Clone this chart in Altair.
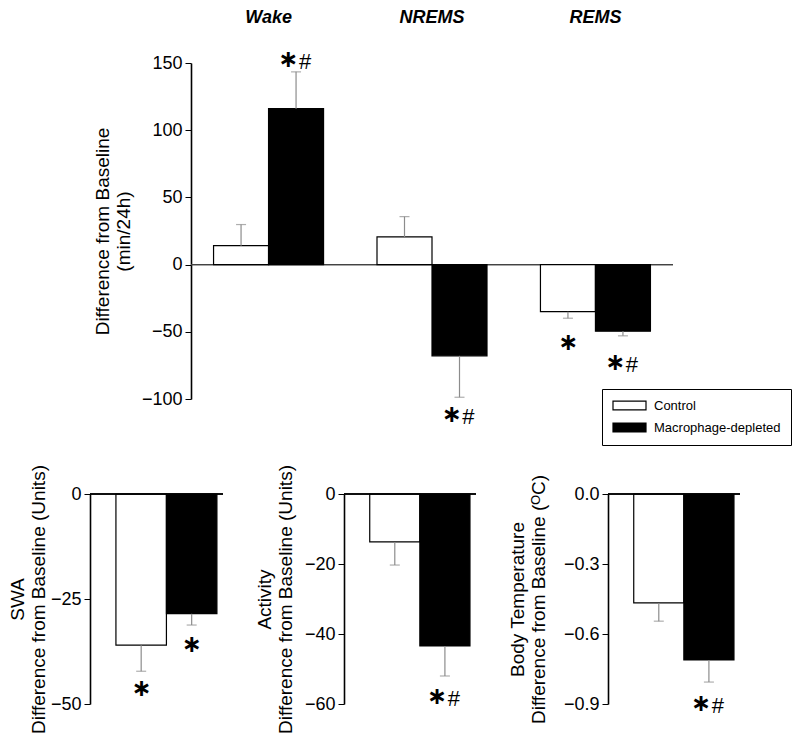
import altair as alt
import pandas as pd

FONT = "Liberation Sans"
STAR_FONT = "DejaVu Sans"

# ---------------- data ----------------
groups = ["Control", "Macrophage-depleted"]

top_categories = ["Wake", "NREMS", "REMS"]
top_control_mean = [14.1, 20.6, -35.0]
top_control_err = [29.8, 35.7, -39.9]
top_md_mean = [116.0, -67.9, -49.6]
top_md_err = [143.4, -98.7, -53.0]
top_ticks = [-100, -50, 0, 50, 100, 150]

top_annot_cat = ["Wake", "NREMS", "REMS", "REMS"]
top_annot_group = ["Macrophage-depleted", "Macrophage-depleted", "Control", "Macrophage-depleted"]
top_annot_y = [153.0, -111.0, -57.5, -72.5]
top_annot_hash = ["#", "#", "", "#"]

swa_mean = [-36.0, -28.5]
swa_err = [-42.2, -31.2]
swa_annot_group = ["Control", "Macrophage-depleted"]
swa_annot_y = [-46.2, -35.7]
swa_annot_hash = ["", ""]
swa_ticks = [-50, -25, 0]

act_mean = [-13.7, -43.4]
act_err = [-20.3, -52.0]
act_annot_group = ["Macrophage-depleted"]
act_annot_y = [-57.7]
act_annot_hash = ["#"]
act_ticks = [-60, -40, -20, 0]

temp_mean = [-0.467, -0.711]
temp_err = [-0.545, -0.806]
temp_annot_group = ["Macrophage-depleted"]
temp_annot_y = [-0.894]
temp_annot_hash = ["#"]
temp_ticks = [-0.9, -0.6, -0.3, 0.0]

ERR_COLOR = "#8c8c8c"
STAR = "\u2217"

fill_scale = alt.Scale(domain=groups, range=["white", "black"])

legend_path = "M-1,-0.8L5,-0.8L5,0.8L-1,0.8Z"


def y_axis(title, values, fmt=None, title_pad=4):
    kw = dict(
        values=values,
        title=title,
        grid=False,
        domainColor="black",
        domainWidth=1.6,
        tickColor="black",
        tickSize=6,
        tickWidth=1,
        labelFontSize=18,
        labelPadding=3,
        labelColor="black",
        labelFont=FONT,
        titleFont=FONT,
        titleFontSize=19,
        titleFontWeight="normal",
        titleColor="black",
        titlePadding=title_pad,
        titleLineHeight=21,
    )
    if fmt:
        kw["format"] = fmt
    return alt.Axis(**kw)


def annotation_layers(adf, x_enc, y_enc, xoff=None):
    enc = dict(x=x_enc, y=y_enc)
    if xoff is not None:
        enc["xOffset"] = xoff
    base = alt.Chart(adf)
    star_combo = base.transform_filter(alt.datum.hash == "#").mark_text(
        text=STAR, font=STAR_FONT, fontSize=24, fontWeight="bold", color="black",
        align="center", baseline="middle", dx=-8, dy=1
    ).encode(**enc)
    star_single = base.transform_filter(alt.datum.hash == "").mark_text(
        text=STAR, font=STAR_FONT, fontSize=24, fontWeight="bold", color="black",
        align="center", baseline="middle", dy=1
    ).encode(**enc)
    hash_t = base.transform_filter(alt.datum.hash == "#").mark_text(
        font=FONT, fontSize=22, color="black", align="center", baseline="middle", dx=9, dy=3
    ).encode(text="hash:N", **enc)
    return [star_combo, star_single, hash_t]


# ---------------- top chart ----------------
top_df = pd.DataFrame({
    "category": top_categories * 2,
    "group": [groups[0]] * 3 + [groups[1]] * 3,
    "mean": top_control_mean + top_md_mean,
    "err": top_control_err + top_md_err,
})
top_annot_df = pd.DataFrame({
    "category": top_annot_cat,
    "group": top_annot_group,
    "y": top_annot_y,
    "hash": top_annot_hash,
})

x_top = alt.X(
    "category:N", sort=top_categories,
    scale=alt.Scale(paddingInner=0.327, paddingOuter=0.138),
    axis=alt.Axis(orient="top", title=None, domain=False, ticks=False, labelAngle=0,
                  labelFontSize=18, labelFontStyle="italic", labelFontWeight="bold",
                  labelPadding=37, labelFont=FONT, labelColor="black"),
)
xoff_top = alt.XOffset("group:N", sort=groups, scale=alt.Scale(paddingInner=0, paddingOuter=0))
y_scale_top = alt.Scale(domain=[-100, 150], nice=False, zero=False)

top_base = alt.Chart(top_df)
top_bars = top_base.mark_bar(stroke="black", strokeWidth=1.2).encode(
    x=x_top, xOffset=xoff_top,
    y=alt.Y("mean:Q", scale=y_scale_top,
            axis=y_axis(["Difference from Baseline", "(min/24h)"], top_ticks, title_pad=8)),
    fill=alt.Fill("group:N", scale=fill_scale, legend=alt.Legend(
        orient="none", legendX=512, legendY=326, direction="vertical", title=None,
        symbolType=legend_path, symbolSize=121, labelOffset=29, labelFontSize=13,
        labelFont=FONT, labelColor="black", padding=10, strokeColor="black",
        fillColor="white", rowPadding=7, symbolStrokeColor="black",
        symbolStrokeWidth=1.2, symbolOpacity=1,
    )),
)
top_err = top_base.mark_rule(color=ERR_COLOR, strokeWidth=1.2).encode(
    x=x_top, xOffset=xoff_top, y=alt.Y("mean:Q", scale=y_scale_top), y2="err:Q"
)
top_cap = top_base.mark_tick(color=ERR_COLOR, thickness=1.2, size=10, orient="horizontal").encode(
    x=x_top, xOffset=xoff_top, y=alt.Y("err:Q", scale=y_scale_top)
)
top_zero = top_base.mark_rule(color="#444444", strokeWidth=1).encode(y=alt.datum(0))

top_chart = alt.layer(
    top_zero, top_bars, top_err, top_cap,
    *annotation_layers(top_annot_df, x_top, alt.Y("y:Q", scale=y_scale_top), xoff_top)
).properties(width=482, height=336)

spacer = alt.Chart(alt.Data(values=[{"v": 0}])).mark_point(opacity=0).encode(
    x=alt.value(0), y=alt.value(0)
).properties(width=1, height=336)


# ---------------- bottom panels ----------------
def panel(title, domain, ticks, means, errs, a_group, a_y, a_hash, width, fmt=None, title_pad=2):
    df = pd.DataFrame({"group": groups, "mean": means, "err": errs})
    adf = pd.DataFrame({"group": a_group, "y": a_y, "hash": a_hash})
    x_enc = alt.X("group:N", sort=groups,
                  scale=alt.Scale(paddingInner=0, paddingOuter=0.317, align=0.81),
                  axis=None)
    ys = alt.Scale(domain=domain, nice=False, zero=False)
    base = alt.Chart(df)
    bars = base.mark_bar(stroke="black", strokeWidth=1.2).encode(
        x=x_enc,
        y=alt.Y("mean:Q", scale=ys, axis=y_axis(title, ticks, fmt, title_pad=title_pad)),
        fill=alt.Fill("group:N", scale=fill_scale, legend=None),
    )
    err = base.mark_rule(color=ERR_COLOR, strokeWidth=1.2).encode(
        x=x_enc, y=alt.Y("mean:Q", scale=ys), y2="err:Q"
    )
    cap = base.mark_tick(color=ERR_COLOR, thickness=1.2, size=10, orient="horizontal").encode(
        x=x_enc, y=alt.Y("err:Q", scale=ys)
    )
    zero = base.mark_rule(color="black", strokeWidth=1.6).encode(y=alt.datum(0))
    return alt.layer(
        bars, err, cap, zero,
        *annotation_layers(adf, x_enc, alt.Y("y:Q", scale=ys))
    ).properties(width=width, height=210)


swa = panel(["SWA", "Difference from Baseline (Units)"], [-50, 0], swa_ticks,
            swa_mean, swa_err, swa_annot_group, swa_annot_y, swa_annot_hash, 133, title_pad=2)
act = panel(["Activity", "Difference from Baseline (Units)"], [-60, 0], act_ticks,
            act_mean, act_err, act_annot_group, act_annot_y, act_annot_hash, 132, title_pad=9)
temp = panel(["Body Temperature", "Difference from Baseline (\u1d3cC)"], [-0.9, 0], temp_ticks,
             temp_mean, temp_err, temp_annot_group, temp_annot_y, temp_annot_hash, 132, ".1f",
             title_pad=15)

top_row = alt.hconcat(spacer, top_chart, spacing=0)
bottom_row = alt.hconcat(swa, act, temp, spacing=31)

chart = alt.vconcat(top_row, bottom_row, spacing=18).resolve_scale(
    fill="independent"
).resolve_legend(fill="independent").properties(padding=0).configure_view(
    strokeWidth=0
)

chart.save("out.html", embed_options={"renderer": "svg", "actions": False})
